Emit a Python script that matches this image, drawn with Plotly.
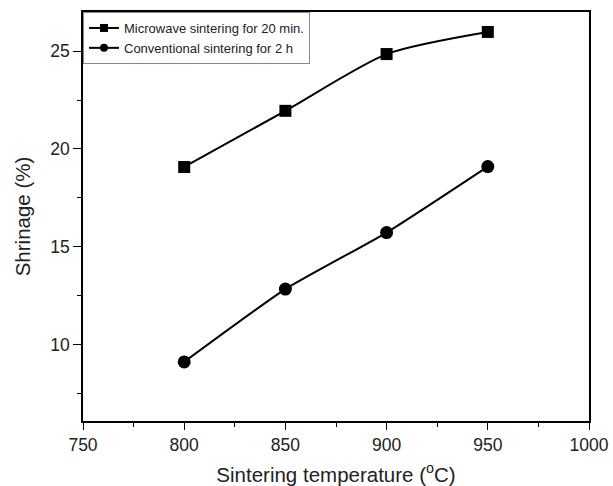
import plotly.graph_objects as go

temps = [800, 850, 900, 950]
microwave = [19.08, 21.95, 24.85, 25.98]
conventional = [9.12, 12.84, 15.73, 19.10]
names = ["Microwave sintering for 20 min.", "Conventional sintering for 2 h"]
symbols = ["square", "circle"]

fig = go.Figure()
for ys, sym, sm, sz in [(microwave, "square", 0.7, 12), (conventional, "circle", 0.5, 13)]:
    fig.add_trace(go.Scatter(x=temps, y=ys, mode="lines+markers", showlegend=False,
                             line=dict(color="black", width=2, shape="spline", smoothing=sm),
                             marker=dict(symbol=sym, size=sz, color="black")))
# legend entries with small symbols
for nm, sym in zip(names, symbols):
    fig.add_trace(go.Scatter(x=[None], y=[None], name=nm, mode="lines+markers",
                             line=dict(color="black", width=2),
                             marker=dict(symbol=sym, size=8, color="black")))

axfont = dict(family="Liberation Sans, Arial", size=17.5, color="#222")
titlefont = dict(family="Liberation Sans, Arial", size=20.5, color="#222")
fig.update_xaxes(range=[750, 1000], dtick=50, tick0=750, showgrid=False, zeroline=False,
                 showline=True, linecolor="black", linewidth=1.5, mirror=True,
                 ticks="outside", ticklen=7, tickcolor="black", automargin=False,
                 minor=dict(dtick=25, ticks="outside", ticklen=4, tickcolor="black"),
                 tickfont=axfont,
                 title=dict(text="Sintering temperature (<sup>o</sup>C)", font=titlefont, standoff=15))
fig.update_yaxes(range=[6.1, 27], dtick=5, tick0=0, showgrid=False, zeroline=False,
                 showline=True, linecolor="black", linewidth=1.5, mirror=True,
                 ticks="outside", ticklen=8, tickcolor="black", automargin=False,
                 minor=dict(dtick=2.5, ticks="outside", ticklen=4, tickcolor="black"),
                 tickfont=axfont,
                 title=dict(text="Shrinage (%)", font=titlefont, standoff=14))

fig.update_layout(width=613, height=486, margin=dict(l=83, r=24, t=12, b=65),
                  plot_bgcolor="white", paper_bgcolor="white",
                  legend=dict(x=0, y=1, xanchor="left", yanchor="top",
                              bgcolor="white", bordercolor="#888", borderwidth=1,
                              font=dict(family="Liberation Sans, Arial", size=13, color="#222"),
                              itemwidth=30, tracegroupgap=0))
fig.write_html("out.html")
